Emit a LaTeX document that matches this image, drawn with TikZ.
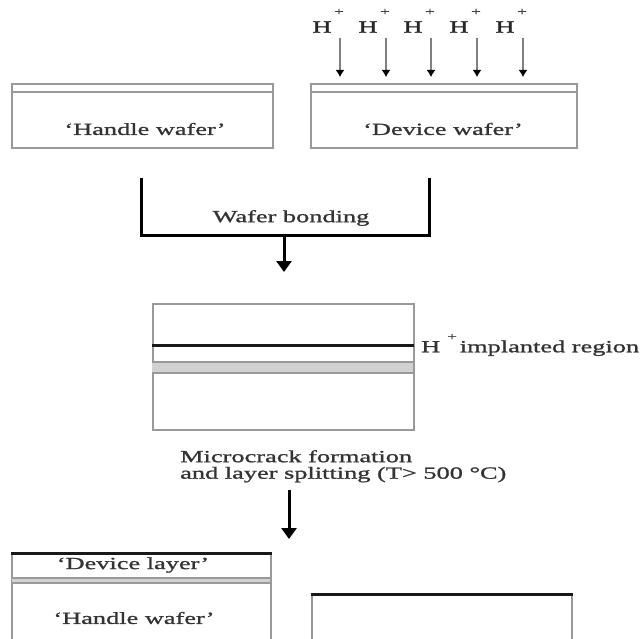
\documentclass[tikz,border=0pt]{standalone}
\usepackage{fontspec}
\setmainfont{Liberation Serif}[FakeStretch=1.55,FakeBold=1.2]
\usetikzlibrary{arrows.meta}
\begin{document}
\begin{tikzpicture}[x=1pt,y=-1pt,
  wafer/.style={draw=black!40, line width=2pt, inner sep=0pt},
  oxide/.style={draw=black!40, line width=1.6pt},
  lab/.style={text=black!80, font=\fontsize{17}{16.5}\selectfont, inner sep=0pt},
  ionlab/.style={text=black!85, font=\fontsize{17}{17}\selectfont, inner sep=0pt},
  ion/.style={draw=black!50, line width=1.3pt, -{Latex[length=7pt,width=9pt,black]}},
  bigarrow/.style={line width=3pt, -{Triangle[length=11pt,width=15pt]}},
  bracket/.style={line width=3pt, line cap=rect},
  implant/.style={draw=black!90, line width=3pt}
]
\useasboundingbox (0,0) rectangle (642,639);
\clip (0,0) rectangle (642,639);

% ---- top row ----
\node[wafer, minimum width=261pt, minimum height=64pt, anchor=north west] (hw) at (11,83) {};
\draw[oxide] (hw.north west) ++(0,9) coordinate (hwa) -- (hwa -| hw.east);
\node[lab] (hwt) at (145,129) {‘Handle wafer’};

\node[wafer, minimum width=266pt, minimum height=64pt, anchor=north west] (dw) at (310,83) {};
\draw[oxide] (dw.north west) ++(0,9) coordinate (dwa) -- (dwa -| dw.east);
\node[lab] (dwt) at (443,129) {‘Device wafer’};

% ---- H+ ions ----
\foreach \i/\xx in {1/322,2/368,3/413,4/459,5/505}{
  \node[ionlab] (h\i) at (\xx,27) {H};
  \node[ionlab, font=\fontsize{11}{11}\selectfont] (p\i) at (\xx+17,12) {+};
  \coordinate (t\i) at (\xx+18,77);
  \draw[ion] (\xx+18,38) -- (t\i);
}

% ---- wafer bonding ----
\coordinate (bl) at (141,180);
\coordinate (br) at (429,180);
\coordinate (bm) at (284,235);
\draw[bracket] (bl) |- (bm) -| (br);
\node[lab] (wb) at (291,218) {Wafer bonding};

% ---- bonded pair ----
\node[wafer, minimum width=261pt, minimum height=126pt, anchor=north west] (bp) at (152,303) {};
\coordinate (bmend) at (284,272);
\draw[bigarrow] (bm) -- (bmend);
\fill[black!18] (152,362) rectangle (413,373);
\draw[oxide] (152,362) -- (413,362);
\draw[oxide] (152,373) -- (413,373);
\draw[implant] (152,345) -- (414,345);
\node[lab, anchor=west] (imp) at (421,345) {H\hspace{7pt}\raisebox{12pt}{\fontsize{11}{11}\selectfont +}\hspace{3pt}implanted region};

% ---- splitting ----
\node[lab, align=left, anchor=north west] (split) at (180,450)
  {Microcrack formation\\and layer splitting (T> 500 °C)};
\coordinate (a2s) at (289,490);
\coordinate (a2e) at (289,539);
\draw[bigarrow] (a2s) -- (a2e);

% ---- result ----
\node[wafer, minimum width=259pt, minimum height=86pt, anchor=north west] (soi) at (11,553) {};
\fill[black!18] (12,578) rectangle (270,583);
\draw[oxide] (11,578) -- (270,578);
\draw[oxide] (11,583) -- (270,583);
\draw[implant] (soi.north west) -- (soi.north east);
\node[lab] (dl) at (133,565) {‘Device layer’};
\node[lab] (hl) at (134,618) {‘Handle wafer’};

\draw[wafer] (312,640) -- (312,594) -- (572,594) -- (572,640);
\draw[implant] (311,594) -- (573,594);
\end{tikzpicture}
\end{document}
